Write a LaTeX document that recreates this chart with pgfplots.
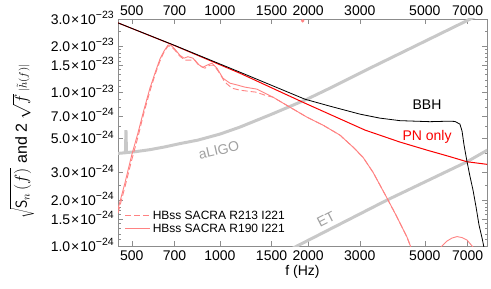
\documentclass[border=0pt]{standalone}
\usepackage{fontspec}
\setmainfont{Liberation Sans}
\usepackage{pgfplots}
\pgfplotsset{compat=1.18}
\definecolor{pinkc}{RGB}{255,130,130}
\definecolor{greyc}{RGB}{200,200,200}
\definecolor{greyt}{RGB}{160,160,160}
\definecolor{framec}{RGB}{140,140,140}
\definecolor{redc}{RGB}{250,0,0}
\newcommand{\sci}[2]{#1\kern1pt×\kern1pt10\raisebox{5.5pt}{\fontsize{10.5}{11}\selectfont −#2}}
\begin{document}
\begin{tikzpicture}
\begin{axis}[
 name=main,
 scale only axis, width=369pt, height=227.3pt,
 xmode=log, ymode=log,
 xmin=449, xmax=8150, ymin=1e-24, ymax=3e-23,
 axis line style={framec},
 every tick/.style={framec},
 tick align=inside,
 major tick length=5pt, minor tick length=2.5pt,
 xtick={500,700,1000,1500,2000,3000,5000,7000},
 xticklabels={500,700,1000,1500,2000,3000,5000,7000},
 minor xtick={},
 ytick={1e-24,1.5e-24,2e-24,3e-24,5e-24,7e-24,1e-23,1.5e-23,2e-23,3e-23},
 yticklabels={\sci{1.0}{24},\sci{1.5}{24},\sci{2.0}{24},\sci{3.0}{24},\sci{5.0}{24},\sci{7.0}{24},\sci{1.0}{23},\sci{1.5}{23},\sci{2.0}{23},\sci{3.0}{23}},
 minor ytick={1.1e-24,1.2e-24,1.3e-24,1.4e-24,1.6e-24,1.7e-24,1.8e-24,1.9e-24,2.5e-24,4e-24,6e-24,8e-24,9e-24,1.1e-23,1.2e-23,1.3e-23,1.4e-23,1.6e-23,1.7e-23,1.8e-23,1.9e-23,2.5e-23},
 tick label style={font=\fontsize{14}{16}\selectfont, text=black},
 xticklabel style={yshift=-1pt},
 yticklabel style={anchor=east, inner sep=0pt, xshift=-4pt, yshift=1pt},
 xlabel={f (Hz)},
 xlabel style={at={(axis description cs:0.5,0)}, anchor=center, yshift=-26pt, font=\fontsize{14}{16}\selectfont},
 ylabel={$\sqrt{\mathsf{S}_{n}\,(f)}$\ and 2 $\sqrt{f}$\,{\fontsize{11}{12}\selectfont$|\tilde{h}(f)|$}},
 ylabel style={at={(axis description cs:0,0.46)}, anchor=center, yshift=96pt, font=\fontsize{16}{18}\selectfont},
 legend style={at={(axis description cs:0.018,0.045)}, anchor=south west, draw=none, fill=none, inner sep=0pt, row sep=-1pt, font=\fontsize{12}{13}\selectfont, cells={anchor=west}},
 legend image code/.code={\draw[#1] (0pt,0pt) -- (25pt,0pt);},
]
\coordinate (ll) at (rel axis cs:0,0);
\coordinate (ur) at (rel axis cs:1,1);
% ET
\addplot[greyc, line width=3pt, forget plot] coordinates {
(1602,8.74e-25) (1832,1.0e-24) (3715,1.99e-24) (6966,3.53e-24) (8350,4.30e-24)};
% aLIGO
\addplot[greyc, line width=3pt, forget plot] coordinates {
(449,4.0e-24) (476,4.04e-24) (478,5.67e-24) (480,4.05e-24) (513,4.10e-24) (577,4.23e-24) (649,4.41e-24) (730,4.63e-24) (841,4.88e-24) (1000,5.34e-24) (1170,5.93e-24) (1517,7.25e-24) (1981,9.0e-24) (2412,1.078e-23) (3249,1.432e-23) (4930,2.112e-23) (7126,2.979e-23) (8350,3.46e-23)};
% PN only
\addplot[redc, line width=1pt, forget plot] coordinates {
(449,2.82e-23) (702,2.004e-23) (1170,1.328e-23) (1950,8.48e-24) (3126,5.67e-24) (4112,4.74e-24) (5088,4.2e-24) (6090,3.81e-24) (6966,3.53e-24) (8215,3.39e-24)};
% BBH
\addplot[black, line width=0.8pt, forget plot] coordinates {
(449,2.82e-23) (702,2.01e-23) (1170,1.349e-23) (1950,9.0e-24) (2373,8.11e-24) (3003,7.2e-24) (3514,6.78e-24) (4112,6.53e-24) (5204,6.43e-24) (6090,6.48e-24) (6340,6.45e-24) (6588,6.2e-24) (6700,5.58e-24) (6805,4.53e-24) (6950,3.62e-24) (7126,2.85e-24) (7302,2.31e-24) (7480,1.79e-24) (7655,1.37e-24) (7840,1.127e-24) (8017,9.15e-25)};
% HBss SACRA R213 I221 (dashed)
\addplot[pinkc, line width=0.9pt, dash pattern=on 6pt off 3pt] coordinates {
(449,1.637e-24) (474,2.416e-24) (500,3.62e-24) (525,5.1e-24) (550,7.31e-24) (577,1.015e-23) (600,1.29e-23) (624,1.59e-23) (644,1.818e-23) (665,1.99e-23) (680,1.99e-23) (702,1.874e-23) (730,1.713e-23) (760,1.614e-23) (790,1.614e-23) (822,1.614e-23) (855,1.475e-23) (889,1.432e-23) (924,1.497e-23) (954,1.497e-23) (992,1.349e-23) (1040,1.161e-23) (1099,1.062e-23) (1170,1.03e-23) (1246,1.015e-23) (1327,1.0e-23) (1424,9.56e-24) (1517,9.28e-24) (1733,7.99e-24) (1981,6.88e-24) (2246,6.11e-24) (2567,5.26e-24) (2844,4.40e-24) (3076,3.78e-24) (3328,3.02e-24) (3715,2.05e-24) (4019,1.543e-24) (4346,1.144e-24) (4520,9.42e-25)};
\addlegendentry{HBss SACRA R213 I221}
% HBss SACRA R190 I221 (solid)
\addplot[pinkc, line width=0.9pt] coordinates {
(449,1.739e-24) (474,2.566e-24) (500,3.9e-24) (525,5.42e-24) (550,7.64e-24) (577,1.062e-23) (600,1.328e-23) (624,1.638e-23) (644,1.846e-23) (665,2.02e-23) (680,2.02e-23) (702,1.902e-23) (730,1.739e-23) (754,1.663e-23) (778,1.70e-23) (809,1.663e-23) (841,1.52e-23) (875,1.453e-23) (903,1.497e-23) (939,1.543e-23) (977,1.432e-23) (1024,1.233e-23) (1082,1.144e-23) (1152,1.11e-23) (1217,1.078e-23) (1338,1.046e-23) (1517,9.28e-24) (1733,7.99e-24) (1981,6.88e-24) (2246,6.11e-24) (2567,5.26e-24) (2844,4.40e-24) (3076,3.78e-24) (3328,3.02e-24) (3715,2.05e-24) (4019,1.543e-24) (4346,1.144e-24) (4520,9.42e-25)};
\addlegendentry{HBss SACRA R190 I221}
\addplot[pinkc, line width=0.9pt, forget plot] coordinates {
(5680,9.85e-25) (5953,1.078e-24) (6190,1.127e-24) (6440,1.152e-24) (6700,1.135e-24) (6966,1.094e-24) (7302,9.85e-25)};
\addplot[pinkc, only marks, mark=*, mark size=1.5pt, forget plot] coordinates {(1916,2.91e-23)};
\node[text=greyt, rotate=13, font=\fontsize{14}{16}\selectfont] at (axis cs:992,4.2e-24) {aLIGO};
\node[text=greyt, rotate=27, font=\fontsize{14}{16}\selectfont] at (axis cs:2300,1.5e-24) {ET};
\node[text=black, font=\fontsize{14}{16}\selectfont] at (axis cs:5088,8.23e-24) {BBH};
\node[text=redc, font=\fontsize{14}{16}\selectfont] at (axis cs:5088,5.10e-24) {PN only};
\end{axis}
\begin{axis}[
 scale only axis, width=369pt, height=227.3pt,
 xmode=log, xmin=449, xmax=8150, ymin=0, ymax=1,
 axis x line*=top, hide y axis,
 axis line style={draw=none},
 every tick/.style={draw=none},
 xtick={500,700,1000,1500,2000,3000,5000,7000},
 xticklabels={500,700,1000,1500,2000,3000,5000,7000},
 minor xtick={},
 tick label style={font=\fontsize{14}{16}\selectfont, text=black},
]
\addplot[draw=none] coordinates {(1000,0.5)};
\end{axis}
\pgfresetboundingbox
\path ([xshift=-118pt,yshift=-43pt]ll) rectangle ([xshift=4pt,yshift=18.7pt]ur);
\end{tikzpicture}
\end{document}
